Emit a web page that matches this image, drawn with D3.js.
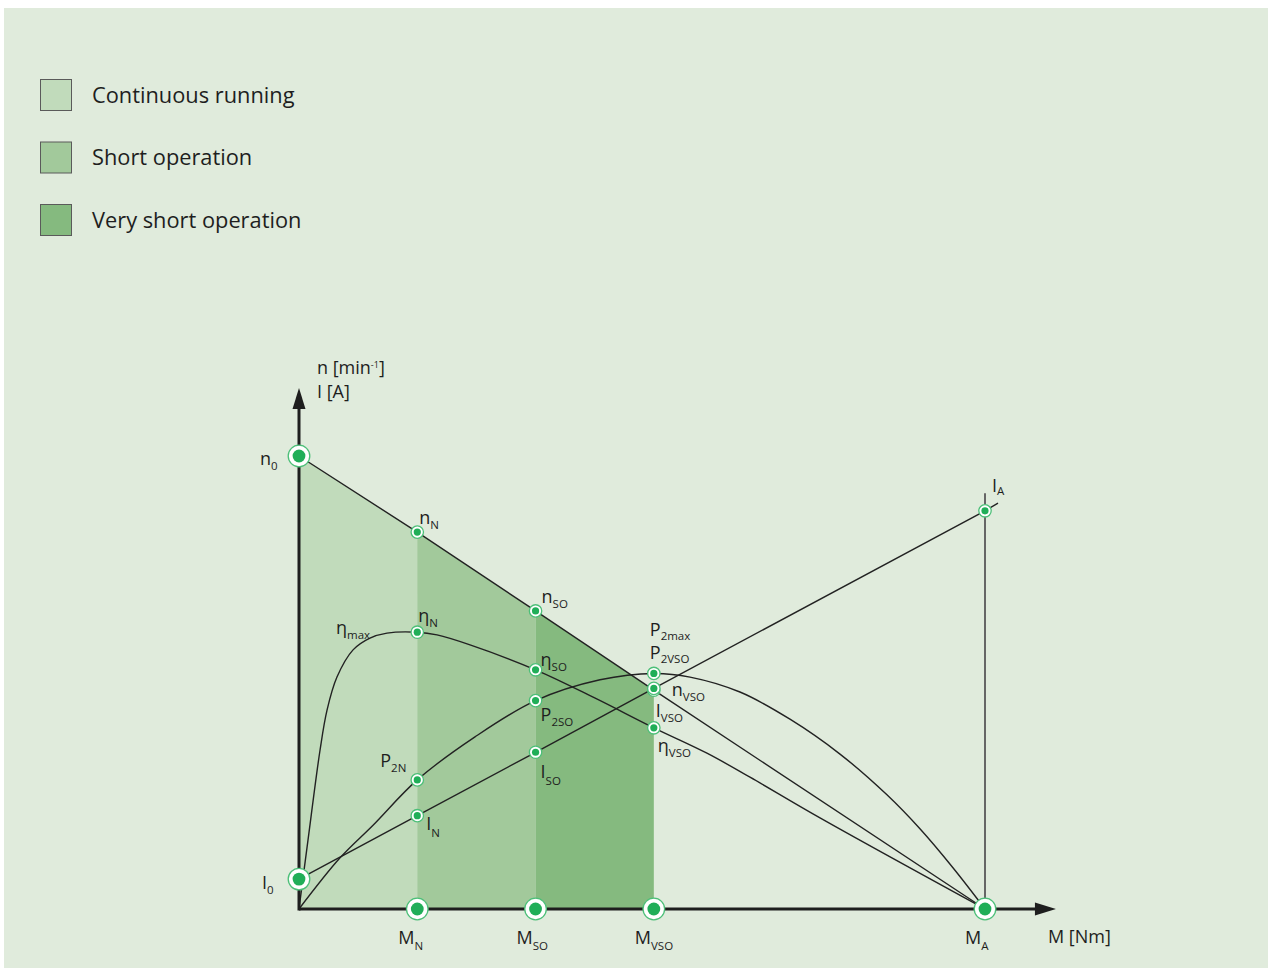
<!DOCTYPE html>
<html>
<head>
<meta charset="utf-8">
<script src="https://cdn.jsdelivr.net/npm/d3@7"></script>
<style>
  html, body { margin: 0; padding: 0; background: #ffffff; }
  svg { display: block; }
  text { font-family: "Open Sans", "Noto Sans", sans-serif; fill: #1e1e1e; }
</style>
</head>
<body>
<svg id="chart" width="1272" height="972"></svg>
<script>
// ---------------- DATA ----------------
const legendLabels = ["Continuous running", "Short operation", "Very short operation"];
const zoneColors   = ["#c1dbbb", "#a2c99b", "#85ba7f"];

// torque points (relative units)
const torqueKeys   = ["N", "SO", "VSO"];
const torqueValues = [1, 2, 3];
const startTorque  = 5.8;   // M_A

// speed n
const speedM      = [0, 1, 2, 3, 5.8];
const speedValues = [100, 83.2, 65.8, 48.3, 0];

// current I
const currentM      = [0, 1, 2, 3, 5.8, 5.91];
const currentValues = [6.6, 20.6, 34.6, 48.7, 87.9, 89.6];

// efficiency eta
const etaM      = [0, 0.076, 0.178, 0.237, 0.321, 0.457, 0.6, 0.744, 1.0, 1.167, 1.446, 2.0, 2.5, 3.0, 3.449, 3.813, 4.405, 5.8];
const etaValues = [0, 15.2, 35.1, 43.9, 51.2, 57.2, 59.8, 60.9, 61.1, 60.5, 58.3, 52.8, 46.6, 40.0, 34.4, 29.1, 20.1, 0];

// output power P2
const p2M      = [0, 0.347, 0.626, 1.0, 1.488, 2.0, 2.545, 3.0, 3.306, 3.728, 4.151, 4.574, 4.971, 5.25, 5.529, 5.8];
const p2Values = [0, 11.3, 18.5, 28.5, 38.0, 46.0, 50.6, 52.0, 51.2, 47.9, 41.9, 34.2, 25.2, 17.7, 9.1, 0];

const startCurrentLineTop = 91.8;  // top of vertical line at M_A
const yAxisMax = 115, xAxisMax = 6.4;

// ---------------- SCALES ----------------
const svg = d3.select("#chart");
const x = d3.scaleLinear().domain([0, startTorque]).range([299, 985]);
const y = d3.scaleLinear().domain([0, 100]).range([909, 456]);

// background panel
svg.append("rect").attr("x", 4).attr("y", 8).attr("width", 1264).attr("height", 960).attr("fill", "#e0ebdc");

// ---------------- LEGEND ----------------
const legend = svg.append("g");
legendLabels.forEach((lab, i) => {
  const gy = 79 + i * 62.5;
  legend.append("rect").attr("x", 40.5).attr("y", gy + 0.5).attr("width", 31).attr("height", 31)
    .attr("fill", zoneColors[i]).attr("stroke", "#5a5a5a").attr("stroke-width", 1);
  legend.append("text").attr("x", 92).attr("y", gy + 23.5).attr("font-size", 21.8).text(lab);
});

// ---------------- ZONES ----------------
const area = d3.area().x(d => x(d[0])).y0(y(0)).y1(d => y(d[1]));
const speedPts = speedM.map((m, i) => [m, speedValues[i]]);
[[0, 1], [1, 2], [2, 3]].forEach((seg, i) => {
  svg.append("path").attr("d", area(speedPts.slice(seg[0], seg[1] + 1))).attr("fill", zoneColors[i]);
});

// ---------------- CURVES ----------------
const straight = d3.line().x(d => x(d[0])).y(d => y(d[1]));
const smooth = d3.line().x(d => x(d[0])).y(d => y(d[1])).curve(d3.curveCatmullRom.alpha(0.5));
const curves = svg.append("g").attr("fill", "none").attr("stroke", "#222").attr("stroke-width", 1.4);
curves.append("path").attr("d", straight(speedPts));
curves.append("path").attr("d", straight(currentM.map((m, i) => [m, currentValues[i]])));
curves.append("path").attr("d", smooth(etaM.map((m, i) => [m, etaValues[i]])));
curves.append("path").attr("d", smooth(p2M.map((m, i) => [m, p2Values[i]])));
svg.append("line").attr("x1", x(startTorque)).attr("x2", x(startTorque))
  .attr("y1", y(startCurrentLineTop)).attr("y2", y(0)).attr("stroke", "#666").attr("stroke-width", 2);

// ---------------- AXES ----------------
const axes = svg.append("g");
axes.append("line").attr("x1", x(0)).attr("x2", x(xAxisMax) - 18).attr("y1", y(0)).attr("y2", y(0))
  .attr("stroke", "#1e1e1e").attr("stroke-width", 3);
axes.append("line").attr("x1", x(0)).attr("x2", x(0)).attr("y1", y(0) + 1.5).attr("y2", y(yAxisMax) + 18)
  .attr("stroke", "#1e1e1e").attr("stroke-width", 3);
axes.append("path").attr("fill", "#1e1e1e")
  .attr("d", `M${x(xAxisMax)},${y(0)} L${x(xAxisMax) - 21},${y(0) - 6.5} L${x(xAxisMax) - 21},${y(0) + 6.5} Z`);
axes.append("path").attr("fill", "#1e1e1e")
  .attr("d", `M${x(0)},${y(yAxisMax)} L${x(0) - 6.5},${y(yAxisMax) + 21} L${x(0) + 6.5},${y(yAxisMax) + 21} Z`);

// ---------------- MARKERS ----------------
const bigMarkers = [[0, speedValues[0]], [0, currentValues[0]], ...torqueValues.map(m => [m, 0]), [startTorque, 0]];
const smallMarkers = [
  ...torqueValues.map((m, i) => [m, speedValues[i + 1]]),
  ...torqueValues.map((m, i) => [m, currentValues[i + 1]]),
  [1, 61.1], [2, 52.8], [3, 40.0],
  [1, 28.5], [2, 46.0], [3, 52.0],
  [startTorque, currentValues[4]]
];
const green = "#20ae58", ring = "#4cbf78";
function marker(d, R, r) {
  svg.append("circle").attr("cx", x(d[0])).attr("cy", y(d[1])).attr("r", R)
    .attr("fill", "#fff").attr("stroke", ring).attr("stroke-width", 1.3);
  svg.append("circle").attr("cx", x(d[0])).attr("cy", y(d[1])).attr("r", r).attr("fill", green);
}
bigMarkers.forEach(d => marker(d, 10.8, 6.4));
smallMarkers.forEach(d => marker(d, 6.2, 3.6));

// ---------------- LABELS ----------------
function lab(px, py, main, sub, size, subSize, subDy) {
  const t = svg.append("text").attr("x", px).attr("y", py).attr("font-size", size || 18);
  t.append("tspan").text(main);
  if (sub) t.append("tspan").attr("dy", subDy || 5).attr("font-size", subSize || 11.5).text(sub);
  return t;
}
const X = v => x(v), Y = v => y(v);
// speed labels
lab(X(0) - 39, Y(100) + 9, "n", "0");
lab(X(1) + 2, Y(speedValues[1]) - 8, "n", "N");
lab(X(2) + 6, Y(speedValues[2]) - 8, "n", "SO");
lab(X(3) + 18, Y(speedValues[3]) + 6, "n", "VSO");
// efficiency
lab(X(0.33) - 2, Y(61.1) + 2, "η", "max");
lab(X(1) + 1, Y(61.1) - 10, "η", "N");
lab(X(2) + 5, Y(52.8) - 4, "η", "SO");
lab(X(3) + 4, Y(40.0) + 24, "η", "VSO");
// power
lab(X(3) - 4, Y(52.0) - 37, "P", "2max", 18, 11.5, 4);
lab(X(3) - 4, Y(52.0) - 14, "P", "2VSO", 18, 11.5, 4);
lab(X(2) + 5, Y(46.0) + 20, "P", "2SO");
lab(X(1) - 37, Y(28.5) - 13, "P", "2N");
// current
lab(X(0) - 37, Y(currentValues[0]) + 10, "I", "0");
lab(X(1) + 9, Y(currentValues[1]) + 14, "I", "N", 18, 11.5, 7);
lab(X(2) + 5, Y(currentValues[2]) + 26, "I", "SO", 18, 11.5, 7);
lab(X(3) + 2, Y(currentValues[3]) + 29, "I", "VSO");
lab(X(startTorque) + 7, Y(currentValues[4]) - 19, "I", "A", 18, 11.5, 3);
// torque
torqueValues.forEach((m, i) => {
  lab(X(m) - 19, Y(0) + 35, "M", torqueKeys[i], 18, 11.5, 6);
});
lab(X(startTorque) - 20, Y(0) + 35, "M", "A", 18, 11.5, 6);
svg.append("text").attr("x", X(xAxisMax) - 8).attr("y", Y(0) + 34).attr("font-size", 18).text("M [Nm]");
// y axis title
const yt = svg.append("text").attr("x", X(0) + 18).attr("y", 374).attr("font-size", 18);
yt.append("tspan").text("n [min");
yt.append("tspan").attr("dy", -6).attr("font-size", 9).text("-1");
yt.append("tspan").attr("dy", 6).text("]");
svg.append("text").attr("x", X(0) + 18).attr("y", 398).attr("font-size", 18).text("I [A]");
</script>
</body>
</html>
